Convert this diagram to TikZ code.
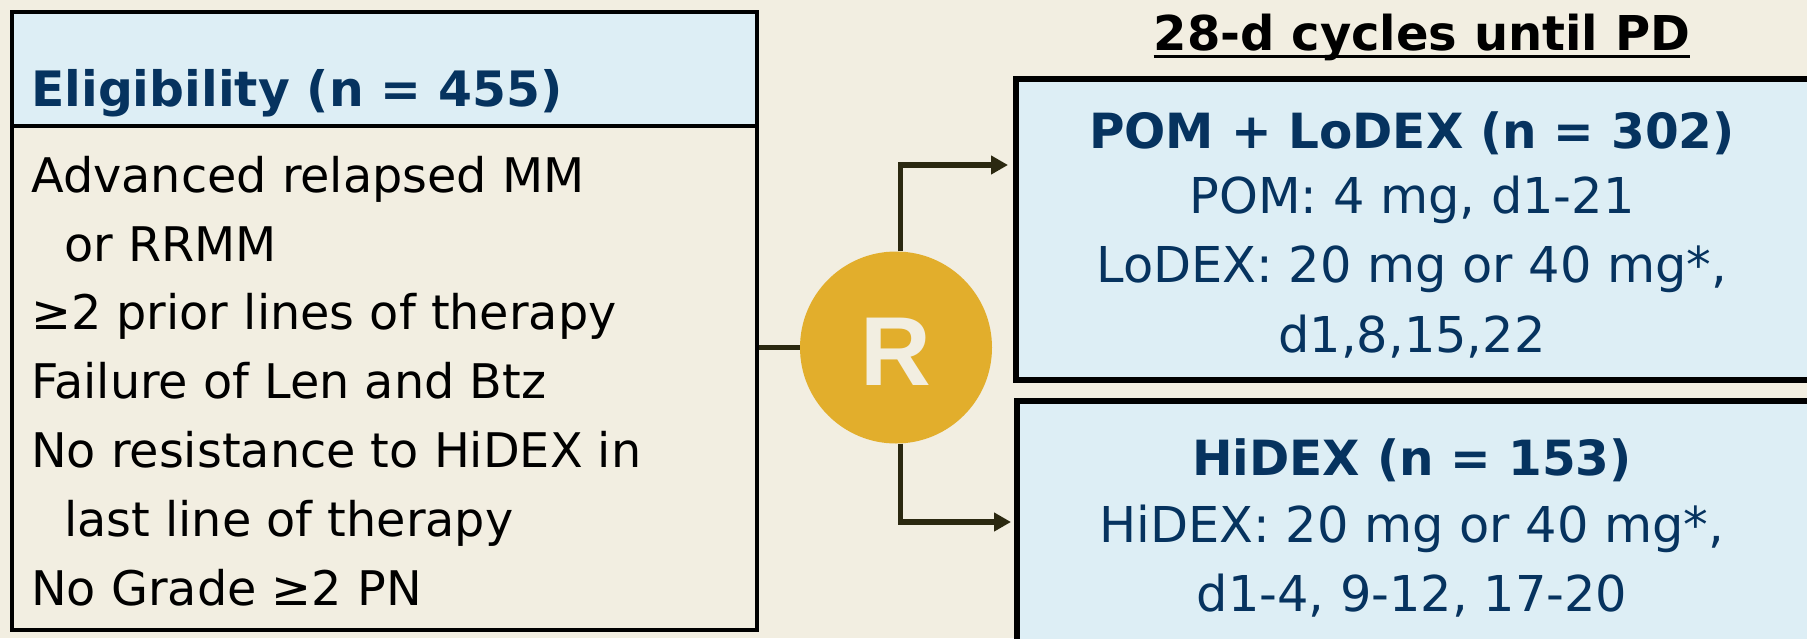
\documentclass[tikz,border=0pt]{standalone}
\usepackage{fontspec}
\setmainfont{DejaVu Sans}
\newfontfamily\rfont{Liberation Sans}
\usetikzlibrary{arrows.meta}

\definecolor{cream}{HTML}{F2EEE1}
\definecolor{paleblue}{HTML}{DDEEF5}
\definecolor{navy}{HTML}{06335F}
\definecolor{gold}{HTML}{E2AE2C}
\definecolor{olive}{HTML}{2B2810}

\tikzset{
  crit/.style={anchor=base west, inner sep=0, font=\fontsize{47.7}{56}\selectfont},
  arm/.style={anchor=base, inner sep=0, text=navy, font=\fontsize{49.4}{58}\selectfont},
  armhead/.style={arm, font=\fontsize{48.5}{58}\selectfont\bfseries},
  armbox/.style={draw=black, line width=6, fill=paleblue, anchor=north west,
    minimum width=800, inner sep=0},
  link/.style={draw=olive, line width=5.5},
}

\begin{document}
\begin{tikzpicture}[x=1pt, y=-1pt]
    \clip (0,0) rectangle (1807,638);
    \fill[cream] (0,0) rectangle (1807,638);

    % eligibility
    \node[draw, line width=4.2, anchor=north west, minimum width=745,
      minimum height=618, inner sep=0] (elig) at (10,10) {};
    \node[draw, line width=4.2, fill=paleblue, anchor=north west,
      minimum width=745, minimum height=114, inner sep=0] (elighead) at (10,10) {};
    \node[anchor=base west, inner sep=0, text=navy,
      font=\fontsize{48.8}{58}\selectfont\bfseries] (eligtitle) at (31,106) {Eligibility (n = 455)};
    \foreach \dx/\txt [count=\i from 0] in {0/Advanced relapsed MM, 33/or RRMM,
        0/≥2 prior lines of therapy, 0/Failure of Len and Btz,
        0/No resistance to HiDEX in, 33/last line of therapy, 0/No Grade ≥2 PN}
      \node[crit] (crit\i) at (31+\dx, 192.3+68.8*\i) {\txt};

    % arms
    \node[anchor=base, inner sep=0, font=\fontsize{48}{58}\selectfont\bfseries]
      (cycles) at (1422,50) {28-d cycles until PD};
    \draw[line width=3.3] ([yshift=-6.7pt]cycles.base west) -- ([yshift=-6.7pt]cycles.base east);

    \node[armbox, minimum height=301] (pom) at (1013,76) {};
    \node[armhead] (pomtitle) at (1412,148.3) {POM + LoDEX (n = 302)};
    \node[arm] (pomdose) at (1412,213.3) {POM: 4 mg, d1-21};
    \node[arm] (lodex) at (1412,282.7) {LoDEX: 20 mg or 40 mg*,};
    \node[arm] (lodexdays) at (1412,352.7) {d1,8,15,22};

    \node[armbox, minimum height=280] (hidex) at (1014,398) {};
    \node[armhead] (hidextitle) at (1412,475) {HiDEX (n = 153)};
    \node[arm] (hidexdose) at (1412,542.7) {HiDEX: 20 mg or 40 mg*,};
    \node[arm] (hidexdays) at (1412,611) {d1-4, 9-12, 17-20};

    % randomisation
    \coordinate (pomin) at (1008,165);
    \coordinate (hidexin) at (1011,522);
    \node[circle, minimum size=192, inner sep=0] (rand) at (896,347.5) {};
    \draw[link] (elig.east |- rand.west) -- (rand.west);
    \draw[link, -{Triangle[length=17pt, width=18pt]}] ([xshift=4.5pt]rand.north) |- (pomin);
    \draw[link, -{Triangle[length=17pt, width=18pt]}] ([xshift=4.5pt]rand.south) |- (hidexin);
    \fill[gold] (rand) circle (96);
    \node[inner sep=0, text=cream, font=\rfont\fontsize{98}{98}\bfseries\selectfont]
      (randlbl) at ([yshift=-4pt]rand.center) {R};
\end{tikzpicture}
\end{document}
